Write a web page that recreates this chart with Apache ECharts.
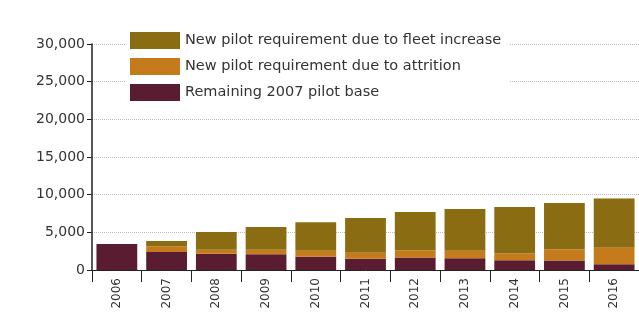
<!DOCTYPE html>
<html>
<head>
<meta charset="utf-8">
<script src="https://cdn.jsdelivr.net/npm/echarts@6/dist/echarts.min.js"></script>
<style>html,body{margin:0;padding:0;background:#fff}#c{width:639px;height:336px}</style>
</head>
<body>
<div id="c"></div>
<script>
const categories = ['2006','2007','2008','2009','2010','2011','2012','2013','2014','2015','2016'];
const remainingBase = [3450, 2400, 2150, 2100, 1750, 1500, 1650, 1550, 1300, 1250, 750];
const attrition     = [0, 750, 550, 600, 800, 800, 950, 1000, 900, 1500, 2200];
const fleetIncrease = [0, 700, 2350, 3000, 3800, 4600, 5100, 5550, 6150, 6150, 6550];
const yTicks = [0, 5000, 10000, 15000, 20000, 25000, 30000];

const chart = echarts.init(document.getElementById('c'));
const fmt = v => String(v).replace(/\B(?=(\d{3})+(?!\d))/g, ',');
chart.setOption({
  backgroundColor: '#fff',
  animation: false,
  textStyle: { fontFamily: 'DejaVu Sans, sans-serif' },
  grid: { left: 92, top: 44, bottom: 66, right: -3 },
  legend: {
    orient: 'vertical', left: 126, top: 29,
    itemWidth: 50, itemHeight: 17, itemGap: 9,
    backgroundColor: '#fff', padding: [3, 8, 3, 4],
    textStyle: { fontSize: 14.5, color: '#333' },
    icon: 'rect',
    data: ['New pilot requirement due to fleet increase', 'New pilot requirement due to attrition', 'Remaining 2007 pilot base']
  },
  xAxis: {
    type: 'category', data: categories,
    axisLine: { lineStyle: { color: '#222', width: 1 } },
    axisTick: { show: true, length: 12, lineStyle: { color: '#222' } },
    axisLabel: { rotate: 90, fontSize: 12, color: '#333', margin: 8 }
  },
  yAxis: {
    type: 'value', min: 0, max: 30000, interval: 5000,
    axisLine: { show: true, lineStyle: { color: '#222', width: 1.5 } },
    axisTick: { show: true, length: 5, lineStyle: { color: '#222' } },
    axisLabel: { fontSize: 14, color: '#333', margin: 7, formatter: v => fmt(v) },
    splitLine: { lineStyle: { color: '#bbb', type: 'dotted' } }
  },
  series: [
    { name: 'Remaining 2007 pilot base', type: 'bar', stack: 's', data: remainingBase, itemStyle: { color: '#5a1c30' }, barCategoryGap: '18%' },
    { name: 'New pilot requirement due to attrition', type: 'bar', stack: 's', data: attrition, itemStyle: { color: '#c57a1c' } },
    { name: 'New pilot requirement due to fleet increase', type: 'bar', stack: 's', data: fleetIncrease, itemStyle: { color: '#8a6c12' } }
  ]
});
</script>
</body>
</html>
